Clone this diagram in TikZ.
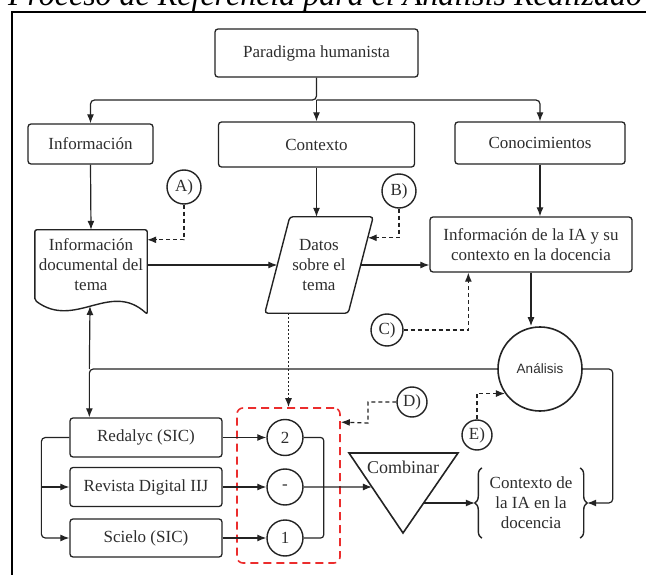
\documentclass[tikz,border=0pt]{standalone}
\usepackage{fontspec}
\setmainfont{Liberation Serif}
\newfontfamily\sansfam{Liberation Sans}
\usepackage{xcolor}
\usetikzlibrary{arrows.meta, calc, decorations.pathreplacing}
\definecolor{lineagris}{RGB}{35,35,35}
\definecolor{textogris}{RGB}{45,45,45}
\definecolor{rojoguia}{RGB}{235,45,45}

\tikzset{
  caja/.style={draw=lineagris, line width=1.3pt, rounded corners=3pt, text=textogris,
    font=\fontsize{17}{20}\selectfont, align=center, inner sep=0pt},
  textonodo/.style={text=textogris, font=\fontsize{17}{20}\selectfont, align=center, inner sep=0pt},
  circref/.style={circle, draw=lineagris, line width=1.4pt, text=textogris,
    font=\fontsize{17}{20}\selectfont, inner sep=0pt},
  borde/.style={draw=lineagris, line width=1.4pt},
  linea/.style={draw=lineagris, line width=1.2pt},
  flecha/.style={linea, -{Latex[length=9pt,width=7pt]}},
  guion/.style={flecha, dash pattern=on 4pt off 3pt},
  punteado/.style={flecha, dash pattern=on 2pt off 2pt},
  llave/.style={borde, decorate, decoration={brace, amplitude=7pt}},
}

\begin{document}
\begin{tikzpicture}[x=1pt, y=-1pt]
\useasboundingbox (0,0) rectangle (646,575);
\clip (0,0) rectangle (646,575);

% Title and frame
\node[font=\fontsize{32}{36}\selectfont\itshape, anchor=base, inner sep=0pt] (titulo) at (325,6)
  {Proceso de Referencia para el Análisis Realizado};
\draw[line width=1.6pt] (12,12) rectangle (700,640);

% Upper row
\node[caja, minimum width=203pt, minimum height=48pt] (paradigma) at (316.5,53) {Paradigma humanista};
\node[caja, minimum width=125pt, minimum height=40pt] (informacion) at (90.5,144) {Información};
\node[caja, minimum width=196pt, minimum height=45pt] (contexto) at (316.5,144.5) {Contexto};
\node[caja, minimum width=170pt, minimum height=42pt] (conoc) at (540,143) {Conocimientos};

\coordinate (rama) at (316.5,100);
\draw[flecha, rounded corners=4pt] (paradigma.south) -- (rama) -| (informacion.north);
\draw[flecha, rounded corners=4pt] (rama) -| (conoc.north);
\draw[flecha] (rama) -- (contexto.north);

% Document, data and IA info
\node[textonodo, minimum width=112pt, minimum height=70pt] (docu) at (91,265)
  {Información\\documental del\\tema};
\draw[borde, rounded corners=2pt] (docu.south west) -- (docu.north west) -- (docu.north east)
  -- ([yshift=-14pt]docu.south east)
  .. controls ([xshift=-37pt,yshift=20pt]docu.south east) and ([xshift=40pt,yshift=-30pt]docu.south west)
  .. (docu.south west) -- cycle;

\node[textonodo, minimum width=83pt, minimum height=96pt] (datos) at (319,265)
  {Datos\\sobre el\\tema};
\draw[borde, rounded corners=3pt] ([xshift=-12.5pt]datos.south west) -- ([xshift=12.5pt]datos.north west)
  -- ([xshift=12.5pt]datos.north east) -- ([xshift=-12.5pt]datos.south east) -- cycle;

\node[caja, minimum width=202pt, minimum height=55pt] (infoIA) at (531,244.5)
  {Información de la IA y su\\contexto en la docencia};
\node[circle, borde, line width=1.6pt, minimum size=84pt, text=textogris,
  font=\sansfam\fontsize{13.5}{16}\selectfont] (analisis) at (540,369) {Análisis};

\draw[flecha] (informacion.south) -- (docu.north);
\draw[flecha] (contexto.south) -- (contexto.south |- datos.north);
\draw[flecha] (conoc.south) -- (conoc.south |- infoIA.north);
\draw[flecha] (docu.east) -- (datos.west);
\draw[flecha] (datos.east) -- (datos.east -| infoIA.west);
\draw[flecha] (infoIA.south) -- (infoIA.south |- analisis.north);

% References A) to E)
\node[circref, minimum size=34pt] (refA) at (184,187) {A)};
\node[circref, minimum size=34pt] (refB) at (399,191) {B)};
\node[circref, minimum size=32pt] (refC) at (387,330) {C)};
\node[circref, minimum size=30pt] (refD) at (412,402) {D)};
\node[circref, minimum size=30pt] (refE) at (477,435) {E)};

% Sources
\node[caja, minimum width=152pt, minimum height=39pt] (redalyc) at (146,437.5) {Redalyc (SIC)};
\node[caja, minimum width=152pt, minimum height=39pt] (revista) at (146,487) {Revista Digital IIJ};
\node[caja, minimum width=152pt, minimum height=38pt] (scielo) at (146,538) {Scielo (SIC)};

\node[circref, minimum size=36pt] (n2) at (285,437.5) {2};
\node[circref, minimum size=36pt] (nguion) at (285,487) {-};
\node[circref, minimum size=36pt] (n1) at (285,538) {1};
\node[draw=rojoguia, line width=1.6pt, dash pattern=on 8pt off 5pt, rounded corners=6pt,
  minimum width=103pt, minimum height=155pt] (grupo) at (288.5,485.5) {};

\draw[flecha, rounded corners=4pt] (redalyc.west) -- ++(-28,0) |- (scielo.west);
\draw[flecha] ([xshift=-28pt]revista.west) -- (revista.west);
\draw[flecha] (redalyc.east) -- (n2.west);
\draw[flecha] (revista.east) -- (nguion.west);
\draw[flecha] (scielo.east) -- (n1.west);
\draw[linea, rounded corners=3pt] (n2.east) -- ++(20,0) |- (n1.east);

% Combine and result
\coordinate (combA) at (349,453);
\coordinate (combB) at (458,453);
\coordinate (combC) at (403,533);
\draw[borde, line width=1.6pt] (combA) -- (combB) -- (combC) -- cycle;
\node[textonodo, font=\fontsize{18}{20}\selectfont] (combinar) at (403,467) {Combinar};
\coordinate (entradaC) at ($(combA)!0.425!(combC)$);
\coordinate (salidaC) at ($(combB)!0.625!(combC)$);

\node[textonodo, minimum width=98pt, minimum height=70pt] (ctxIA) at (531,503)
  {Contexto de\\la IA en la\\docencia};
\draw[llave] (ctxIA.south west) -- (ctxIA.north west);
\draw[llave] (ctxIA.north east) -- (ctxIA.south east);

\draw[flecha] (nguion.east) -- (entradaC);
\draw[flecha] (salidaC) -- ([xshift=-7pt]ctxIA.west);
\draw[flecha, rounded corners=4pt] (analisis.east) -- ++(30,0) |- ([xshift=7pt]ctxIA.east);

% Feedback from analysis
\coordinate (bajada) at ($(redalyc.north west)+(20,0)$);
\coordinate (docpie) at (90,306);
\draw[flecha, rounded corners=4pt] (analisis.west) -| (bajada);
\draw[flecha] (bajada |- analisis.west) -- (docpie);

% Dashed references
\draw[guion] (refA.south) |- ([yshift=-10pt]docu.north east);
\draw[guion] (refB.south) |- ([xshift=7pt,yshift=-21pt]datos.north east);
\draw[guion] (refC.east) -| ([xshift=39pt]infoIA.south west);
\coordinate (codoD) at (368,423);
\draw[guion] (refD.west) -| (codoD) -- ([yshift=-15pt]grupo.north east);
\draw[guion] (refE.north) |- (analisis.215);
\draw[punteado] (grupo.north |- datos.south) -- (grupo.north);
\end{tikzpicture}
\end{document}
